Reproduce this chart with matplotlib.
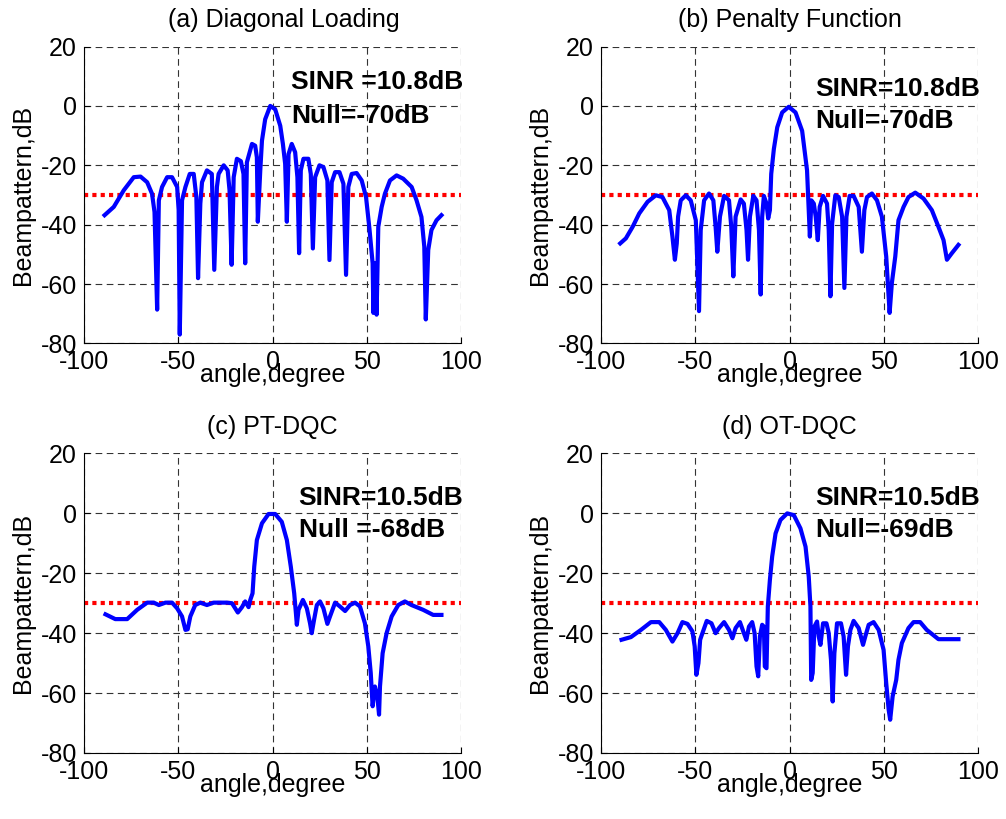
import matplotlib
matplotlib.use("Agg")
import matplotlib.pyplot as plt

plt.rcParams['font.family'] = ['Liberation Sans', 'DejaVu Sans']
plt.rcParams['axes.unicode_minus'] = False

# (a) Diagonal Loading
ang_a = [-89.1, -84.2, -78.9, -73.6, -70.0, -66.5, -63.9, -62.6, -61.2, -60.3,
         -58.6, -55.9, -53.3, -50.6, -49.8, -49.2, -48.0, -46.2, -43.9, -41.8,
         -40.4, -39.5, -38.3, -37.4, -34.8, -32.2, -30.9, -29.5, -28.6, -25.9,
         -23.8, -22.8, -21.7, -20.6, -18.9, -16.8, -15.4, -14.5, -13.6, -10.9,
         -9.2, -8.3, -7.8, -6.5, -5.6, -3.9, -1.2, 1.4, 4.1, 5.5,
         6.7, 7.6, 8.5, 10.2, 12.0, 13.2, 14.1, 15.0, 16.4, 19.0,
         20.3, 21.4, 22.6, 24.9, 27.0, 29.1, 30.2, 31.4, 33.2, 35.5,
         37.6, 39.0, 40.2, 42.0, 44.6, 47.3, 49.6, 51.4, 53.1, 53.5,
         54.3, 55.2, 56.1, 57.9, 59.6, 62.3, 65.8, 69.3, 73.8, 76.4,
         79.0, 80.5, 81.3, 82.6, 84.3, 87.0, 89.6]
bp_a = [-36.8, -34.0, -28.4, -24.0, -23.8, -25.7, -29.6, -35.7, -68.6, -31.8,
        -27.3, -24.0, -24.0, -27.3, -35.0, -77.0, -31.8, -27.3, -22.9, -22.9,
        -30.7, -58.0, -32.9, -25.7, -21.7, -22.9, -55.2, -27.3, -22.9, -20.0,
        -21.7, -28.4, -53.5, -24.0, -17.8, -18.6, -22.9, -53.0, -19.0, -12.8,
        -13.4, -17.3, -39.0, -21.7, -11.7, -4.5, 0.0, -1.1, -6.7, -12.8,
        -19.5, -39.0, -16.2, -12.8, -15.6, -24.0, -49.6, -21.7, -17.8, -17.8,
        -22.9, -48.0, -24.0, -20.0, -20.6, -25.1, -51.9, -25.7, -22.3, -22.3,
        -26.2, -56.9, -27.3, -22.9, -22.6, -25.1, -30.7, -41.3, -53.0, -69.7,
        -53.0, -70.3, -40.7, -34.0, -29.6, -25.1, -23.4, -24.5, -27.3, -31.8,
        -37.4, -47.4, -71.9, -48.5, -41.8, -38.5, -36.8]

# (b) Penalty Function
ang_b = [-89.8, -86.8, -83.2, -79.7, -75.3, -70.9, -67.4, -63.8, -62.1, -60.8,
         -59.8, -59.1, -57.7, -55.0, -52.4, -49.7, -48.0, -47.1, -45.3, -42.7,
         -40.4, -39.2, -38.3, -36.9, -34.7, -32.1, -30.9, -29.8, -28.6, -25.9,
         -24.2, -22.8, -22.0, -21.0, -19.2, -17.5, -16.2, -15.3, -14.5, -13.6,
         -12.2, -11.3, -10.4, -9.7, -8.3, -6.5, -3.9, -0.4, 3.2, 6.7,
         9.3, 9.9, 10.8, 11.6, 12.9, 13.9, 15.0, 16.0, 17.8, 19.9,
         20.8, 21.7, 22.6, 24.3, 26.1, 27.9, 29.1, 30.2, 31.9, 34.0,
         36.7, 38.4, 39.7, 41.1, 43.7, 46.4, 49.0, 51.3, 53.1, 54.3,
         56.1, 57.8, 60.5, 63.1, 66.7, 71.1, 75.5, 79.0, 81.7, 83.5,
         86.1, 89.6]
bp_b = [-46.3, -44.6, -40.7, -36.2, -32.3, -30.1, -30.7, -35.1, -44.0, -51.8,
        -46.3, -37.3, -31.8, -30.1, -31.8, -38.5, -69.1, -41.8, -31.8, -29.5,
        -31.8, -40.7, -49.1, -37.3, -30.3, -31.8, -40.7, -57.4, -37.3, -31.5,
        -32.9, -41.8, -51.8, -37.3, -30.3, -31.8, -41.8, -63.5, -37.3, -30.3,
        -32.9, -37.9, -35.1, -22.9, -14.5, -7.2, -2.2, -0.3, -2.2, -8.4,
        -21.7, -30.7, -44.0, -31.8, -32.9, -37.3, -45.2, -34.0, -30.3, -32.9,
        -41.8, -64.1, -39.6, -30.1, -30.7, -37.3, -61.3, -37.3, -30.3, -30.3,
        -34.0, -49.1, -35.1, -30.7, -29.5, -31.8, -37.3, -50.7, -69.7, -59.6,
        -50.7, -38.5, -34.0, -30.7, -29.2, -31.2, -35.1, -40.7, -45.2, -51.8,
        -49.6, -46.8]

# (c) PT-DQC
ang_c = [-88.6, -83.4, -77.1, -71.8, -66.5, -63.0, -60.3, -56.8, -53.3, -50.6,
         -48.0, -46.2, -45.0, -43.6, -41.0, -38.3, -34.8, -31.2, -24.2, -21.5,
         -19.8, -18.4, -16.2, -14.5, -12.7, -11.8, -10.6, -9.7, -8.3, -5.6,
         -2.1, 1.4, 4.9, 7.6, 9.7, 11.5, 12.4, 12.9, 13.8, 16.1,
         18.2, 19.9, 20.8, 22.1, 23.5, 25.2, 27.0, 29.1, 30.5, 33.2,
         35.8, 38.5, 41.1, 43.8, 46.4, 49.0, 50.8, 52.1, 53.1, 54.3,
         55.6, 56.5, 57.0, 58.4, 60.5, 63.2, 66.7, 70.2, 73.7, 79.9,
         85.2, 89.6]
bp_c = [-33.7, -35.3, -35.3, -32.2, -29.8, -29.8, -30.6, -29.8, -29.8, -31.7,
        -34.4, -38.9, -38.7, -34.4, -30.6, -29.8, -30.6, -29.8, -29.8, -30.0,
        -31.7, -33.1, -31.3, -29.4, -31.3, -28.9, -26.7, -17.8, -8.9, -3.3,
        -0.2, -0.2, -2.8, -8.9, -17.8, -26.7, -33.3, -37.2, -32.2, -28.9,
        -31.7, -36.7, -40.0, -35.3, -30.6, -29.4, -31.7, -36.9, -34.4, -29.8,
        -31.1, -32.6, -30.6, -29.8, -31.1, -36.7, -44.4, -53.3, -64.4, -57.8,
        -61.1, -67.2, -57.8, -46.7, -40.0, -34.4, -30.6, -29.4, -30.6, -32.2,
        -33.9, -33.9]

# (d) OT-DQC
ang_d = [-89.1, -84.1, -78.8, -73.5, -69.1, -65.6, -62.1, -59.4, -56.8, -54.1,
         -51.5, -50.3, -49.4, -48.3, -47.4, -46.2, -43.9, -41.4, -39.2, -37.4,
         -34.7, -32.1, -30.3, -28.6, -26.3, -24.2, -22.9, -21.5, -19.8, -18.5,
         -17.5, -16.6, -15.7, -14.5, -13.6, -13.1, -12.2, -11.5, -10.4, -9.2,
         -7.4, -4.8, -1.2, 2.3, 5.8, 8.5, 10.2, 11.1, 11.5, 12.3,
         13.2, 14.6, 15.5, 16.4, 17.8, 19.6, 20.8, 22.0, 22.9, 23.8,
         25.2, 27.3, 28.7, 30.0, 31.0, 32.3, 34.0, 36.7, 39.0, 40.2,
         42.0, 44.6, 47.3, 49.9, 51.3, 52.6, 53.4, 54.7, 56.6, 57.8,
         59.6, 63.1, 65.8, 69.3, 72.8, 79.0, 84.3, 89.6]
bp_d = [-42.2, -41.3, -38.9, -36.3, -36.3, -38.9, -42.8, -40.0, -36.3, -36.9,
        -39.4, -44.4, -53.9, -50.0, -42.2, -40.0, -35.9, -36.7, -40.0, -38.3,
        -36.3, -38.9, -41.7, -38.3, -36.3, -40.0, -42.2, -37.8, -36.3, -40.0,
        -51.1, -54.4, -41.1, -37.2, -37.8, -51.1, -51.7, -31.1, -22.2, -14.4,
        -6.7, -2.2, 0.0, -0.6, -5.0, -11.1, -21.1, -31.1, -55.6, -53.3,
        -37.8, -36.1, -41.1, -43.9, -36.7, -36.7, -40.0, -48.9, -62.8, -46.7,
        -36.7, -36.7, -41.1, -53.9, -44.4, -38.9, -35.9, -38.3, -43.9, -41.1,
        -37.2, -36.3, -38.9, -45.6, -56.7, -65.6, -68.9, -61.1, -55.6, -48.9,
        -43.3, -38.3, -36.3, -36.3, -38.9, -42.0, -42.0, -42.0]

titles = ['(a) Diagonal Loading', '(b) Penalty Function', '(c) PT-DQC', '(d) OT-DQC']
sinr_txt = ['SINR =10.8dB', 'SINR=10.8dB', 'SINR=10.5dB', 'SINR=10.5dB']
null_txt = ['Null=-70dB', 'Null=-70dB', 'Null =-68dB', 'Null=-69dB']
ref_level = -30

angles = [ang_a, ang_b, ang_c, ang_d]
patterns = [bp_a, bp_b, bp_c, bp_d]

fig = plt.figure(figsize=(10.06, 8.19), dpi=100)
boxes = [[0.0835, 0.5806, 0.3748, 0.3626],
         [0.5974, 0.5806, 0.3748, 0.3626],
         [0.0835, 0.0806, 0.3748, 0.3657],
         [0.5974, 0.0806, 0.3748, 0.3657]]
# text anchor (x, sinr baseline, null baseline) per panel
txt_pos = [(9.7, 5.7, -5.7), (13.8, 3.4, -7.3), (13.8, 2.8, -7.8), (13.8, 2.8, -7.8)]

for i in range(4):
    ax = fig.add_axes(boxes[i])
    ax.plot(angles[i], patterns[i], color='#0000ff', lw=3, zorder=3)
    ax.axhline(ref_level, color='#ff0000', lw=3, dashes=(1, 1), zorder=2)
    ax.set_xlim(-100, 100)
    ax.set_ylim(-80, 20)
    ax.set_xticks([-100, -50, 0, 50, 100])
    ax.set_yticks([-80, -60, -40, -20, 0, 20])
    ax.grid(True, color='#333333', linestyle=(0, (6, 4)), lw=0.8)
    ax.spines['top'].set_visible(False)
    ax.spines['right'].set_visible(False)
    ax.tick_params(direction='in', length=4, labelsize=18, pad=5)
    ax.set_xlabel('angle,degree', fontsize=18, labelpad=-8)
    ax.set_ylabel('Beampattern,dB', fontsize=18, labelpad=4)
    tx = 0.53 if i == 0 else 0.5
    ax.set_title(titles[i], fontsize=18, pad=14, x=tx)
    x0, y1, y2 = txt_pos[i]
    ax.text(x0, y1, sinr_txt[i], fontsize=19, fontweight='bold', va='baseline', zorder=4)
    ax.text(x0, y2, null_txt[i], fontsize=19, fontweight='bold', va='baseline', zorder=4)

fig.savefig('out.png', dpi=100)
